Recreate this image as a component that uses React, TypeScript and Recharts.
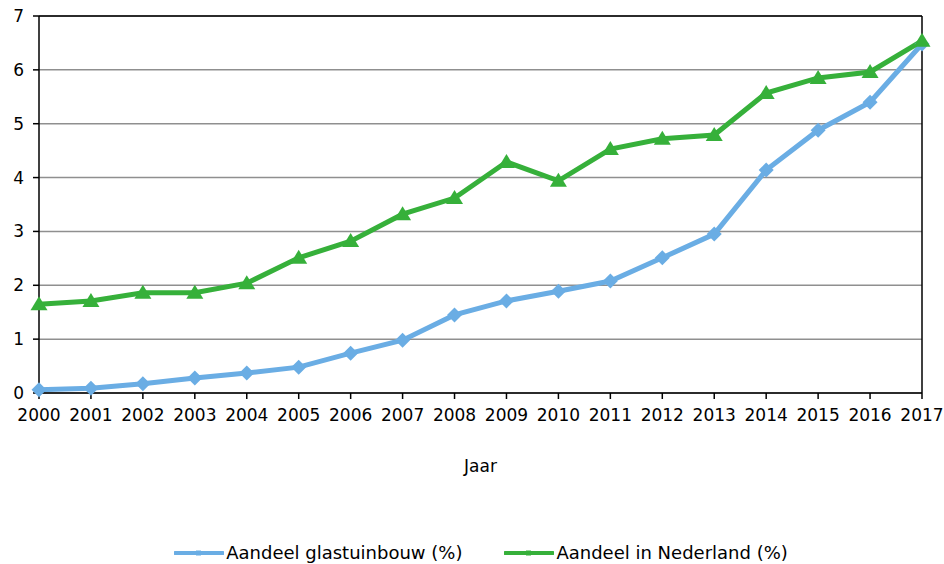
import React from "react";
import {
  LineChart,
  Line,
  XAxis,
  YAxis,
  CartesianGrid,
  Legend,
  ReferenceLine,
  Label,
} from "recharts";

const years = [
  "2000", "2001", "2002", "2003", "2004", "2005", "2006", "2007", "2008",
  "2009", "2010", "2011", "2012", "2013", "2014", "2015", "2016", "2017",
];
const glastuinbouw = [
  0.06, 0.09, 0.17, 0.28, 0.37, 0.48, 0.74, 0.98, 1.45, 1.71, 1.89, 2.08,
  2.51, 2.95, 4.14, 4.88, 5.4, 6.48,
];
const nederland = [
  1.65, 1.71, 1.86, 1.86, 2.04, 2.51, 2.82, 3.32, 3.62, 4.29, 3.94, 4.53,
  4.72, 4.79, 5.57, 5.85, 5.96, 6.54,
];
const yTicks = [0, 1, 2, 3, 4, 5, 6, 7];

const BLUE = "#6aade4";
const GREEN = "#36b03a";
const FONT = "'DejaVu Sans', Verdana, sans-serif";

const data = years.map((jaar, i) => ({
  jaar,
  glas: glastuinbouw[i],
  nl: nederland[i],
}));

const Diamond = (props: any) => {
  const { cx, cy } = props;
  if (cx == null || cy == null) return <g />;
  const r = 7.5;
  return (
    <path
      d={`M${cx},${cy - r} L${cx + r},${cy} L${cx},${cy + r} L${cx - r},${cy} Z`}
      fill={BLUE}
    />
  );
};

const Triangle = (props: any) => {
  const { cx, cy } = props;
  if (cx == null || cy == null) return <g />;
  return (
    <path
      d={`M${cx},${cy - 8} L${cx + 8.5},${cy + 6} L${cx - 8.5},${cy + 6} Z`}
      fill={GREEN}
    />
  );
};

const legendItems = [
  { label: "Aandeel glastuinbouw (%)", color: BLUE },
  { label: "Aandeel in Nederland (%)", color: GREEN },
];

const LegendContent = () => (
  <div
    style={{
      display: "flex",
      justifyContent: "center",
      gap: 42,
      paddingLeft: 18,
      fontFamily: FONT,
      fontSize: 18,
      color: "#000",
    }}
  >
    {legendItems.map((it) => (
      <div key={it.label} style={{ display: "flex", alignItems: "center" }}>
        <svg width={50} height={12} style={{ marginRight: 2 }}>
          <line x1={1} y1={6} x2={49} y2={6} stroke={it.color} strokeWidth={4} strokeLinecap="round" />
          <rect x={22} y={3.5} width={5} height={5} fill={it.color} />
        </svg>
        <span>{it.label}</span>
      </div>
    ))}
  </div>
);

export default function App() {
  return (
    <div style={{ position: "absolute", left: 0, top: 0, width: 944, height: 564, background: "#fff" }}>
      <LineChart
        width={944}
        height={564}
        data={data}
        margin={{ top: 16, right: 22, bottom: 91, left: 0 }}
      >
        <CartesianGrid vertical={false} stroke="#8f8f8f" strokeWidth={1.5} />
        <XAxis
          dataKey="jaar"
          height={80}
          interval={0}
          stroke="#000"
          strokeWidth={1.5}
          tickSize={6}
          tickMargin={10}
          tick={{ fill: "#000", fontSize: 17, fontFamily: FONT }}
        >
          <Label
            value="Jaar"
            position="insideBottom"
            offset={1}
            style={{ fill: "#000", fontSize: 17, fontFamily: FONT }}
          />
        </XAxis>
        <YAxis
          width={39}
          domain={[0, 7]}
          ticks={yTicks}
          interval={0}
          stroke="#000"
          strokeWidth={1.5}
          tickSize={6}
          tickMargin={9}
          tick={{ fill: "#000", fontSize: 17, fontFamily: FONT }}
        />
        <ReferenceLine y={7} stroke="#000" strokeWidth={1.5} />
        <ReferenceLine x="2017" stroke="#000" strokeWidth={1.5} />
        <Legend
          verticalAlign="middle"
          content={<LegendContent />}
          wrapperStyle={{ top: 542, left: 0, width: 944 }}
        />
        <Line
          dataKey="glas"
          stroke={BLUE}
          strokeWidth={5}
          dot={<Diamond />}
          activeDot={false}
          isAnimationActive={false}
        />
        <Line
          dataKey="nl"
          stroke={GREEN}
          strokeWidth={5}
          dot={<Triangle />}
          activeDot={false}
          isAnimationActive={false}
        />
      </LineChart>
    </div>
  );
}
